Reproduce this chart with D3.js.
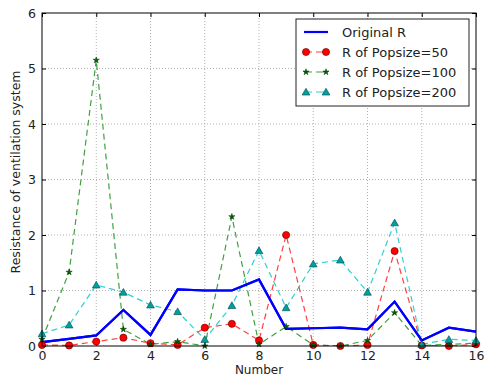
<!DOCTYPE html>
<html>
<head>
<meta charset="utf-8">
<script src="https://cdn.jsdelivr.net/npm/d3@7"></script>
<style>
  body { margin: 0; background: #fff; }
  text { font-family: "DejaVu Sans", sans-serif; }
  .grid line { stroke: #b0b0b0; stroke-dasharray: 1,2; }
</style>
</head>
<body>
<div id="chart"></div>
<script>
// data
var numbers = [0, 1, 2, 3, 4, 5, 6, 7, 8, 9, 10, 11, 12, 13, 14, 15, 16];
var originalR = [0.07, 0.13, 0.19, 0.65, 0.2, 1.02, 1.0, 1.0, 1.2, 0.31, 0.32, 0.33, 0.3, 0.8, 0.1, 0.33, 0.26];
var pop50 = [0.02, 0.01, 0.08, 0.15, 0.05, 0.02, 0.33, 0.4, 0.1, 2.0, 0.02, 0.0, 0.02, 1.71, 0.01, 0.0, 0.03];
var pop100 = [0.12, 1.33, 5.15, 0.3, 0.03, 0.08, 0.0, 2.33, 0.03, 0.35, 0.02, 0.0, 0.1, 0.6, 0.01, 0.03, 0.05];
var pop200 = [0.22, 0.38, 1.1, 0.97, 0.74, 0.62, 0.12, 0.73, 1.72, 0.69, 1.48, 1.55, 0.97, 2.22, 0.03, 0.12, 0.1];
var xTicks = [0, 2, 4, 6, 8, 10, 12, 14, 16];
var yTicks = [0, 1, 2, 3, 4, 5, 6];

var series = [
  { name: "Original R", values: originalR, color: "#0000ff", dash: null, width: 2.2, marker: null },
  { name: "R of Popsize=50", values: pop50, color: "#ff4040", dash: "6,4", width: 1.2, marker: "circle", fill: "#ff0000" },
  { name: "R of Popsize=100", values: pop100, color: "#40a040", dash: "6,4", width: 1.2, marker: "star", fill: "#006000" },
  { name: "R of Popsize=200", values: pop200, color: "#30d0d0", dash: "6,4", width: 1.2, marker: "triangle", fill: "#00a0a0" }
];

var W = 487, H = 380;
var m = { left: 42, right: 11, top: 13, bottom: 34 };

var svg = d3.select("#chart").append("svg").attr("width", W).attr("height", H);

var x = d3.scaleLinear().domain([0, 16]).range([m.left, W - m.right]);
var y = d3.scaleLinear().domain([0, 6]).range([H - m.bottom, m.top]);

// grid
svg.append("g").attr("class", "grid")
  .selectAll("line.gx").data(xTicks.slice(1, -1)).enter().append("line")
  .attr("x1", d => x(d)).attr("x2", d => x(d))
  .attr("y1", y(0)).attr("y2", y(6));
svg.select(".grid")
  .selectAll("line.gy").data(yTicks.slice(1, -1)).enter().append("line")
  .attr("y1", d => y(d)).attr("y2", d => y(d))
  .attr("x1", x(0)).attr("x2", x(16));

// axes (ticks point inward, like matplotlib)
svg.append("g")
  .attr("transform", `translate(0, ${y(0)})`)
  .call(d3.axisBottom(x).tickValues(xTicks).tickFormat(d3.format("d")).tickSize(-4).tickPadding(5))
  .call(g => g.select(".domain").remove())
  .call(g => g.selectAll("text").attr("font-size", 12.5).attr("fill", "#222"));

svg.append("g")
  .attr("transform", `translate(${x(0)}, 0)`)
  .call(d3.axisLeft(y).tickValues(yTicks).tickFormat(d3.format("d")).tickSize(-4).tickPadding(6))
  .call(g => g.select(".domain").remove())
  .call(g => g.selectAll("text").attr("font-size", 12.5).attr("fill", "#222"));

// top/right ticks
svg.append("g")
  .attr("transform", `translate(0, ${y(6)})`)
  .call(d3.axisTop(x).tickValues(xTicks).tickSize(-4).tickFormat(""))
  .call(g => g.select(".domain").remove());
svg.append("g")
  .attr("transform", `translate(${x(16)}, 0)`)
  .call(d3.axisRight(y).tickValues(yTicks).tickSize(-4).tickFormat(""))
  .call(g => g.select(".domain").remove());

var plot = svg.append("g");
plot.append("clipPath").attr("id", "clip").append("rect")
  .attr("x", x(0)).attr("y", y(6)).attr("width", x(16) - x(0)).attr("height", y(0) - y(6));

var line = d3.line().x((d, i) => x(numbers[i])).y(d => y(d));

var star = d3.symbol().type(d3.symbolStar).size(12);
var tri = d3.symbol().type(d3.symbolTriangle).size(26);

function drawMarker(g, s, cx, cy) {
  if (s.marker === "circle") {
    g.append("circle").attr("cx", cx).attr("cy", cy).attr("r", 3.6)
      .attr("fill", s.fill).attr("stroke", "#600").attr("stroke-width", 0.6);
  } else if (s.marker === "star") {
    g.append("path").attr("d", star).attr("transform", `translate(${cx},${cy})`)
      .attr("fill", s.fill).attr("stroke", "#003000").attr("stroke-width", 0.5);
  } else if (s.marker === "triangle") {
    g.append("path").attr("d", tri).attr("transform", `translate(${cx},${cy + 0.8})`)
      .attr("fill", s.fill).attr("stroke", "#004848").attr("stroke-width", 0.6);
  }
}

var lines = plot.append("g").attr("clip-path", "url(#clip)");
series.slice().reverse().forEach(function(s) {
  lines.append("path")
    .attr("d", line(s.values))
    .attr("fill", "none")
    .attr("stroke", s.color)
    .attr("stroke-width", s.width)
    .attr("stroke-dasharray", s.dash);
});
// markers on top of the lines
series.forEach(function(s) {
  if (!s.marker) return;
  var mg = plot.append("g");
  s.values.forEach(function(v, i) { drawMarker(mg, s, x(numbers[i]), y(v)); });
});
lines.append("path")
  .attr("d", line(originalR))
  .attr("fill", "none").attr("stroke", "#0000ff").attr("stroke-width", 2.2);

// frame
svg.append("rect")
  .attr("x", x(0)).attr("y", y(6))
  .attr("width", x(16) - x(0)).attr("height", y(0) - y(6))
  .attr("fill", "none").attr("stroke", "#000").attr("stroke-width", 1);

// axis labels
svg.append("text")
  .attr("x", (x(0) + x(16)) / 2).attr("y", H - 6)
  .attr("text-anchor", "middle").attr("font-size", 12).attr("fill", "#222")
  .text("Number");
svg.append("text")
  .attr("transform", `translate(20, 172) rotate(-90)`)
  .attr("text-anchor", "middle").attr("font-size", 12.5).attr("fill", "#222")
  .text("Resistance of ventilation system");

// legend
var lg = svg.append("g").attr("transform", "translate(296, 19)");
lg.append("rect").attr("width", 173).attr("height", 87)
  .attr("fill", "#fff").attr("stroke", "#222").attr("stroke-width", 1);
series.forEach(function(s, i) {
  var ly = 13 + i * 20;
  lg.append("line").attr("x1", 8).attr("x2", 32).attr("y1", ly).attr("y2", ly)
    .attr("stroke", s.color).attr("stroke-width", s.width)
    .attr("stroke-dasharray", s.dash ? "8,4" : null);
  if (s.marker) {
    drawMarker(lg, s, 10, ly);
    drawMarker(lg, s, 30, ly);
  }
  lg.append("text").attr("x", 46).attr("y", ly + 5)
    .attr("font-size", 13).attr("fill", "#222").text(s.name);
});
</script>
</body>
</html>
